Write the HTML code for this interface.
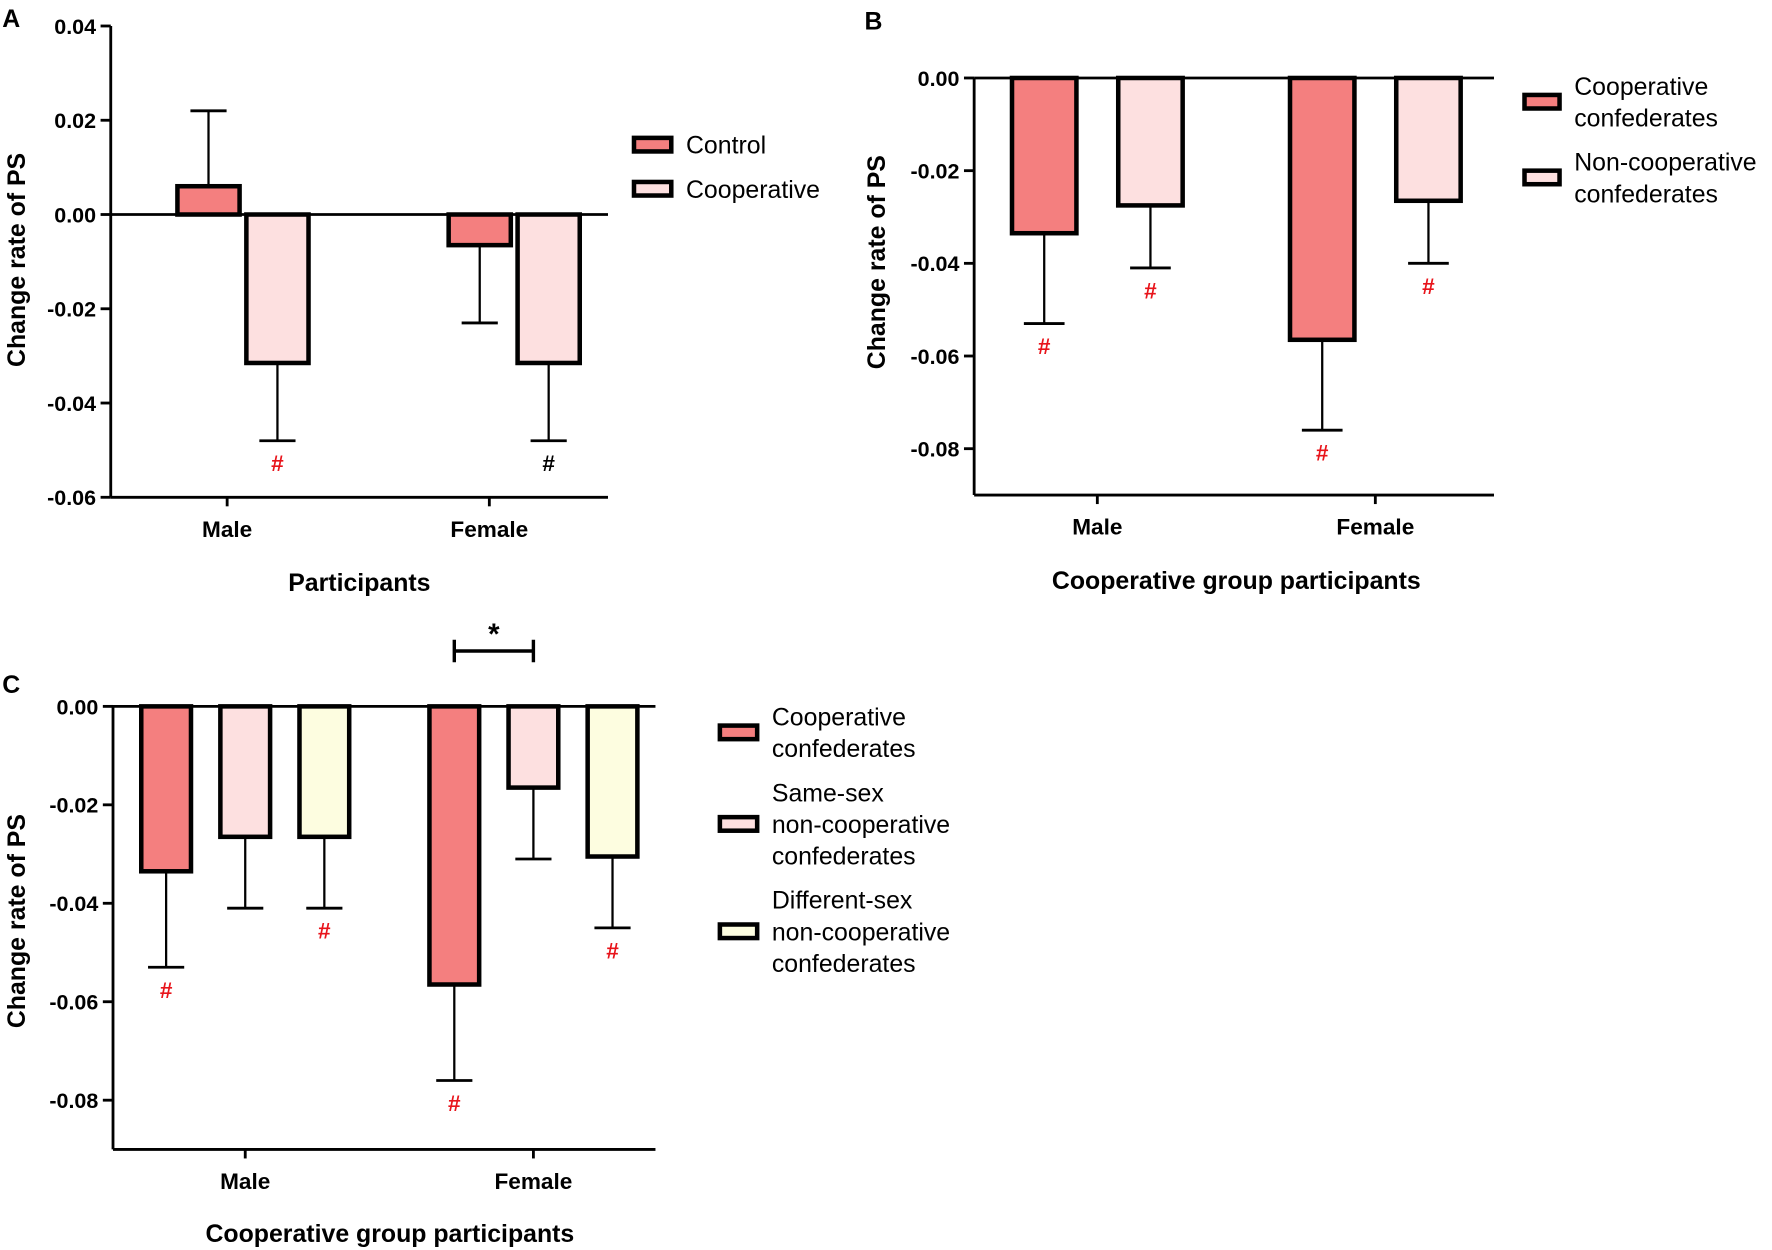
<!DOCTYPE html>
<html><head><meta charset="utf-8"><style>
html,body{margin:0;padding:0;background:#fff}
svg{display:block;font-family:"Liberation Sans",Arial,sans-serif}
</style></head><body>
<svg id="fig" width="1772" height="1250" viewBox="0 0 1568 1106" preserveAspectRatio="none" xmlns="http://www.w3.org/2000/svg"></svg>
<script>
const categories = ["Male","Female"];
// Panel A
const aSeries = ["Control","Cooperative"];
const aMeans = [[0.006,-0.0315],[-0.0065,-0.0315]];
const aErr = [[0.022,-0.048],[-0.023,-0.048]];
const aHash = [[null,"red"],[null,"black"]];
const aTicks = [0.04,0.02,0.00,-0.02,-0.04,-0.06];
// Panel B
const bSeries = [["Cooperative","confederates"],["Non-cooperative","confederates"]];
const bMeans = [[-0.0335,-0.0275],[-0.0565,-0.0265]];
const bErr = [[-0.053,-0.041],[-0.076,-0.040]];
const bHash = [["red","red"],["red","red"]];
const bTicks = [0.00,-0.02,-0.04,-0.06,-0.08];
// Panel C
const cSeries = [["Cooperative","confederates"],["Same-sex","non-cooperative","confederates"],["Different-sex","non-cooperative","confederates"]];
const cMeans = [[-0.0335,-0.0265,-0.0265],[-0.0565,-0.0165,-0.0305]];
const cErr = [[-0.053,-0.041,-0.041],[-0.076,-0.031,-0.045]];
const cHash = [["red",null,"red"],["red",null,"red"]];
const cTicks = [0.00,-0.02,-0.04,-0.06,-0.08];

const colors = ["#f47f7f","#fde0e0","#fdfde0"];
const NS = "http://www.w3.org/2000/svg";
const svg = document.getElementById("fig");
function el(tag, attrs, parent, text){
  const e = document.createElementNS(NS, tag);
  for (const k in attrs) e.setAttribute(k, attrs[k]);
  if (text !== undefined) e.textContent = text;
  (parent||svg).appendChild(e);
  return e;
}
function fmt(v){ return v.toFixed(2).replace("-0.00","0.00"); }

function panel(o){
  const g = el("g",{});
  
  
  const y = v => o.y0 + (o.vmax - v) * (o.y1 - o.y0) / (o.vmax - o.vmin);
  const L = el("text",{x:o.letterX,y:o.letterY,"font-size":22,"font-weight":"bold"},g,o.letter);
  
  
  const ya = el("line",{x1:o.ax,y1:o.y0,x2:o.ax,y2:o.y1,stroke:"#000","stroke-width":2.5},g);
  
  
  o.ticks.forEach(t=>{
    el("line",{x1:o.ax-9,y1:y(t),x2:o.ax,y2:y(t),stroke:"#000","stroke-width":2.5},g);
    const tl = el("text",{x:o.ax-13,y:y(t)+7,"font-size":19,"font-weight":"bold","text-anchor":"end"},g,fmt(t));
    
    
  });
  const xa = el("line",{x1:o.ax,y1:o.y1,x2:o.axEnd,y2:o.y1,stroke:"#000","stroke-width":2.5},g);
  
  
  categories.forEach((c,i)=>{
    const lx = o.labelX ? o.labelX[i] : o.catX[i];
    el("line",{x1:lx,y1:o.y1,x2:lx,y2:o.y1+8,stroke:"#000","stroke-width":2.5},g);
    const cl = el("text",{x:lx,y:o.y1+35,"font-size":20,"font-weight":"bold","text-anchor":"middle"},g,c);
    
    
  });
  const xt = el("text",{x:o.xTitleX,y:o.xTitleY,"font-size":22,"font-weight":"bold","text-anchor":"middle"},g,o.xTitle);
  
  
  const yt = el("text",{x:0,y:0,"font-size":22,"font-weight":"bold","text-anchor":"middle",transform:`translate(${o.yTitleX},${o.yTitleY}) rotate(-90)`},g,"Change rate of PS");
  
  
  const n = o.means[0].length;
  o.means.forEach((row,i)=>{
    row.forEach((v,j)=>{
      const cx = o.catX[i] + (j-(n-1)/2)*o.step;
      const top = Math.min(y(v),y(0)), h = Math.abs(y(v)-y(0));
      const ev = o.err[i][j], ey = y(ev);
      el("line",{x1:cx,y1:y(v),x2:cx,y2:ey,stroke:"#000","stroke-width":2},g);
      el("line",{x1:cx-o.cap,y1:ey,x2:cx+o.cap,y2:ey,stroke:"#000","stroke-width":2.5},g);
      const r = el("rect",{x:cx-o.bw/2,y:top,width:o.bw,height:h,fill:colors[j],stroke:"#000","stroke-width":4},g);
      
      
      const hc = o.hash[i][j];
      if (hc){
        const hy = Math.max(ey, y(v)) + 27;
        const ht = el("text",{x:cx,y:hy,"font-size":20,"font-weight":"bold","text-anchor":"middle",fill:hc==="red"?"#e8141b":"#000"},g,"#");
        
        
      }
    });
  });
  const zl = el("line",{x1:o.ax,y1:y(0),x2:o.zeroEnd,y2:y(0),stroke:"#000","stroke-width":2.5},g);
  
  
  o.legend.forEach((lines,k)=>{
    const ly = o.legY[k];
    const sw = el("rect",{x:o.legX,y:ly-6,width:o.swW,height:12,fill:colors[k],stroke:"#000","stroke-width":4},g);
    
    
    const t = el("text",{x:o.legX+o.swW+13,y:ly+8-(lines.length-1)*14,"font-size":22},g);
    
    
    lines.forEach((ln,m)=>{ el("tspan",{x:o.legX+o.swW+13,dy:m?28:0},t,ln); });
  });
  return y;
}

panel({name:"panel-a",letter:"A",letterX:2,letterY:24,ax:98,axEnd:538,zeroEnd:538,y0:23,y1:440,vmax:0.04,vmin:-0.06,
  ticks:aTicks,catX:[215,455],labelX:[201,433],step:61,bw:55,cap:16,means:aMeans,err:aErr,hash:aHash,
  xTitle:"Participants",xTitleX:318,xTitleY:523,yTitleX:22,yTitleY:230,
  legend:aSeries.map(s=>[s]),legX:561,swW:33,legY:[128,167]});
panel({name:"panel-b",letter:"B",letterX:765,letterY:26,ax:862,axEnd:1322,zeroEnd:1322,y0:69,y1:438,vmax:0,vmin:-0.09,
  ticks:bTicks,catX:[971,1217],step:94,bw:57,cap:18,means:bMeans,err:bErr,hash:bHash,
  xTitle:"Cooperative group participants",xTitleX:1094,xTitleY:521,yTitleX:783,yTitleY:232,
  legend:bSeries,legX:1349,swW:31,legY:[90,157]});
panel({name:"panel-c",letter:"C",letterX:2,letterY:613,ax:100,axEnd:580,zeroEnd:580,y0:625,y1:1017,vmax:0,vmin:-0.09,
  ticks:cTicks,catX:[217,472],step:70,bw:44,cap:16,means:cMeans,err:cErr,hash:cHash,
  xTitle:"Cooperative group participants",xTitleX:345,xTitleY:1099,yTitleX:22,yTitleY:815,
  legend:cSeries,legX:637,swW:33,legY:[648,729,824]});
const br = el("path",{d:"M402,566 V586 M402,576 H472 M472,566 V586",stroke:"#000","stroke-width":3,fill:"none"});


const st = el("text",{x:437,y:570,"font-size":26,"font-weight":"bold","text-anchor":"middle"},svg,"*");


</script>
</body></html>
